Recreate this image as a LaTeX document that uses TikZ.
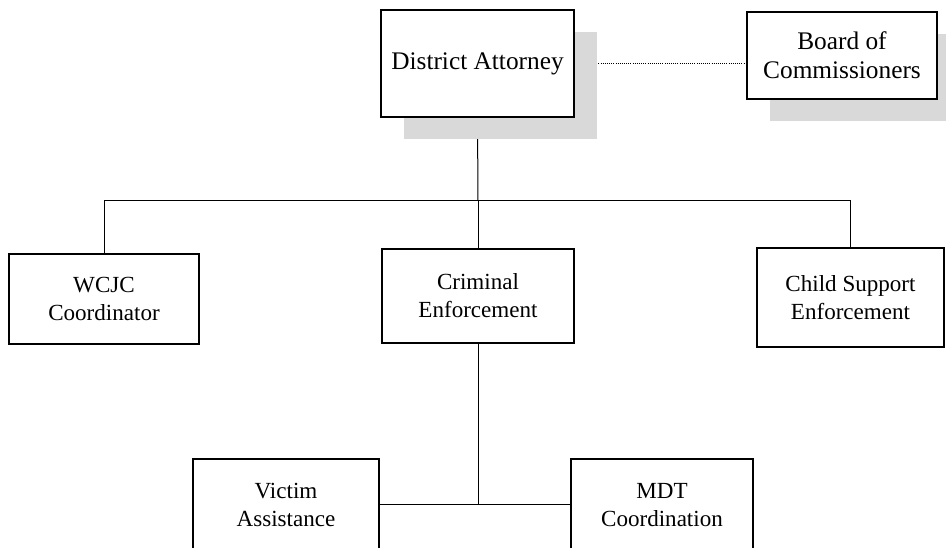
\documentclass[tikz,border=0pt]{standalone}
\usepackage{fontspec}
\setmainfont{Liberation Serif}
\usepackage{tikz}
\usetikzlibrary{positioning, shadows, backgrounds, calc}
\definecolor{ShadowGray}{RGB}{217, 217, 217}

\begin{document}
\begin{tikzpicture}[
    x=0.75pt, y=-0.75pt,
    office/.style={rectangle, draw=black, fill=white, line width=1.5pt, align=center,
      font=\fontsize{17.3}{21}\selectfont, inner sep=0pt},
    topoffice/.style={office, font=\fontsize{19}{22}\selectfont,
      drop shadow={shadow xshift=17pt, shadow yshift=-16.5pt, fill=ShadowGray, opacity=1}},
    link/.style={draw=black, line width=0.75pt},
    advise/.style={draw=black, line width=0.6pt, densely dotted}
  ]
    \clip (0,0) rectangle (946,548);

    % Top level
    \node[topoffice, minimum width=144.75pt, minimum height=80.25pt] (da) at (477.5, 63.5) {District Attorney};
    \node[topoffice, minimum width=142.5pt, minimum height=65.25pt] (board) at (842, 55.5) {Board of\\Commissioners};

    % Divisions
    \node[office, minimum width=142.5pt, minimum height=67.5pt] (wcjc) at (104, 299) {WCJC\\Coordinator};
    \node[office, minimum width=144pt, minimum height=70.5pt] (crim) at (478, 296) {Criminal\\Enforcement};
    \node[office, minimum width=140.25pt, minimum height=74.25pt] (child) at (850.5, 297.5) {Child Support\\Enforcement};

    % Units under criminal enforcement
    \node[office, minimum width=139.5pt, minimum height=69pt] (victim) at (286, 505) {Victim\\Assistance};
    \node[office, minimum width=136.5pt, minimum height=69pt] (mdt) at (662, 505) {MDT\\Coordination};

    % Connections
    \coordinate (bus) at (478, 201);
    \coordinate (join) at (478, 505);
    \begin{pgfonlayer}{background}
      \draw[advise] (da.east) -- (da.east -| board.west);
      \draw[link] (da.south) -- (bus);
      \draw[link] (wcjc.north) |- (bus);
      \draw[link] (child.north) |- (bus);
      \draw[link] (bus) -- (crim.north);
      \draw[link] (crim.south) -- (join);
      \draw[link] (victim.east) -- (mdt.west);
    \end{pgfonlayer}
\end{tikzpicture}
\end{document}
